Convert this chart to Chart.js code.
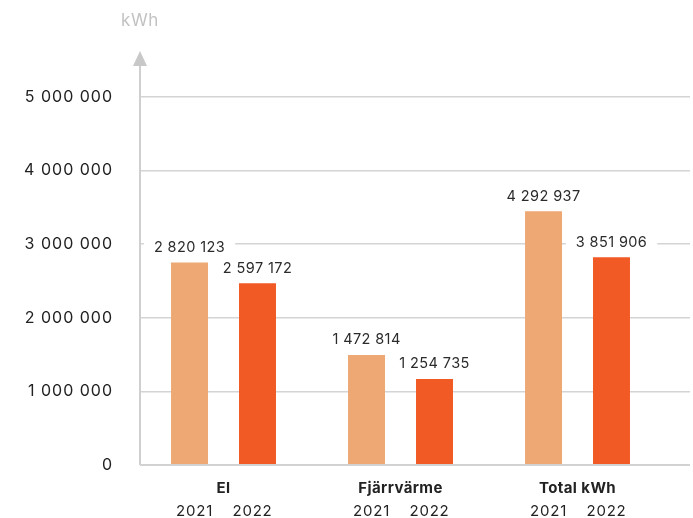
<!DOCTYPE html>
<html>
<head>
<meta charset="utf-8">
<script src="https://cdn.jsdelivr.net/npm/chart.js@4"></script>
<style>
html,body{margin:0;padding:0;background:#fff;}
#wrap{width:693px;height:518px;position:relative;}
</style>
</head>
<body>
<div id="wrap"><canvas id="c" width="693" height="518"></canvas></div>
<script>
const categories = ['El', 'Fjärrvärme', 'Total kWh'];
const years = ['2021', '2022'];
const values2021 = [2750000, 1493000, 3446000];
const values2022 = [2469000, 1167000, 2822000];
const labels2021 = ['2 820 123', '1 472 814', '4 292 937'];
const labels2022 = ['2 597 172', '1 254 735', '3 851 906'];
const yTicks = [0, 1000000, 2000000, 3000000, 4000000, 5000000];
const yTickLabels = ['0', '1 000 000', '2 000 000', '3 000 000', '4 000 000', '5 000 000'];
const unitLabel = 'kWh';

const FONT = 'Inter, "Open Sans", sans-serif';
const colors = ['#EDA874', '#F15A24'];

function toPoints(arr){ return arr.map((v,i)=>({x:i, y:v})); }

const spacing = {
  id: 'spacing',
  beforeDraw(chart){ chart.ctx.letterSpacing = '1px'; },
  beforeDatasetsDraw(chart){ chart.ctx.letterSpacing = '0px'; }
};

const overlay = {
  id: 'overlay',
  afterDatasetsDraw(chart){
    const ctx = chart.ctx;
    const area = chart.chartArea;
    const xs = chart.scales.x;
    ctx.save();
    ctx.letterSpacing = '0px';
    // y axis line with arrow
    ctx.strokeStyle = '#cfcfcf';
    ctx.lineWidth = 2;
    ctx.beginPath();
    ctx.moveTo(area.left, area.bottom);
    ctx.lineTo(area.left, 64);
    ctx.stroke();
    ctx.fillStyle = '#c8c8c8';
    ctx.beginPath();
    ctx.moveTo(area.left, 51);
    ctx.lineTo(area.left - 7, 66);
    ctx.lineTo(area.left + 7, 66);
    ctx.closePath();
    ctx.fill();
    // unit label
    ctx.fillStyle = '#c2c2c2';
    ctx.font = '17px ' + FONT;
    ctx.letterSpacing = '0.6px';
    ctx.textAlign = 'center';
    ctx.textBaseline = 'middle';
    ctx.fillText(unitLabel, area.left, 21);
    // baseline
    ctx.strokeStyle = '#d2d2d2';
    ctx.lineWidth = 2;
    ctx.beginPath();
    ctx.moveTo(area.left, area.bottom);
    ctx.lineTo(area.right, area.bottom);
    ctx.stroke();
    // data labels
    const lbls = [labels2021, labels2022];
    chart.data.datasets.forEach((ds, di) => {
      const meta = chart.getDatasetMeta(di);
      meta.data.forEach((bar, i) => {
        const t = lbls[di][i];
        ctx.font = '14.5px ' + FONT;
        ctx.letterSpacing = '0.4px';
        const w = ctx.measureText(t).width;
        const cy = bar.y - 15;
        ctx.fillStyle = '#fff';
        ctx.fillRect(bar.x - w/2 - 10, cy - 9, w + 20, 18);
        ctx.fillStyle = '#2b2b2b';
        ctx.fillText(t, bar.x, cy);
      });
    });
    // category labels and year labels
    categories.forEach((c, i) => {
      const cx = xs.getPixelForValue(i);
      ctx.font = 'bold 15px ' + FONT;
      ctx.letterSpacing = '0.4px';
      ctx.fillStyle = '#222';
      ctx.fillText(c, cx, 488);
      ctx.font = '15px ' + FONT;
      ctx.letterSpacing = '0.8px';
      ctx.fillText(years[0], cx - 29, 511);
      ctx.fillText(years[1], cx + 29, 511);
    });
    ctx.restore();
  }
};

new Chart(document.getElementById('c'), {
  type: 'bar',
  data: {
    datasets: [
      { label: years[0], data: toPoints(values2021), backgroundColor: colors[0], borderWidth: 0 },
      { label: years[1], data: toPoints(values2022), backgroundColor: colors[1], borderWidth: 0 }
    ]
  },
  options: {
    responsive: false,
    animation: false,
    devicePixelRatio: 1,
    categoryPercentage: 0.768,
    barPercentage: 0.544,
    layout: { padding: { top: 97, bottom: 53, right: 3, left: 0 } },
    plugins: { legend: { display: false }, tooltip: { enabled: false } },
    scales: {
      x: {
        type: 'linear',
        offset: false,
        bounds: 'data',
        min: -0.4718,
        max: 2.6355,
        display: false,
        grid: { offset: false },
        afterBuildTicks(scale){ scale.ticks = categories.map((c,i)=>({value:i})); }
      },
      y: {
        min: 0,
        max: 5000000,
        afterFit(scale){ scale.width = 140; },
        afterBuildTicks(scale){ scale.ticks = yTicks.map(v=>({value:v})); },
        border: { display: false },
        grid: { color: '#d4d4d4', lineWidth: 1.5, drawTicks: false },
        ticks: {
          padding: 27,
          color: '#222',
          font: { family: FONT, size: 16 },
          callback(v){ const i = yTicks.indexOf(v); return i >= 0 ? yTickLabels[i] : ''; }
        }
      }
    }
  },
  plugins: [spacing, overlay]
});
</script>
</body>
</html>
